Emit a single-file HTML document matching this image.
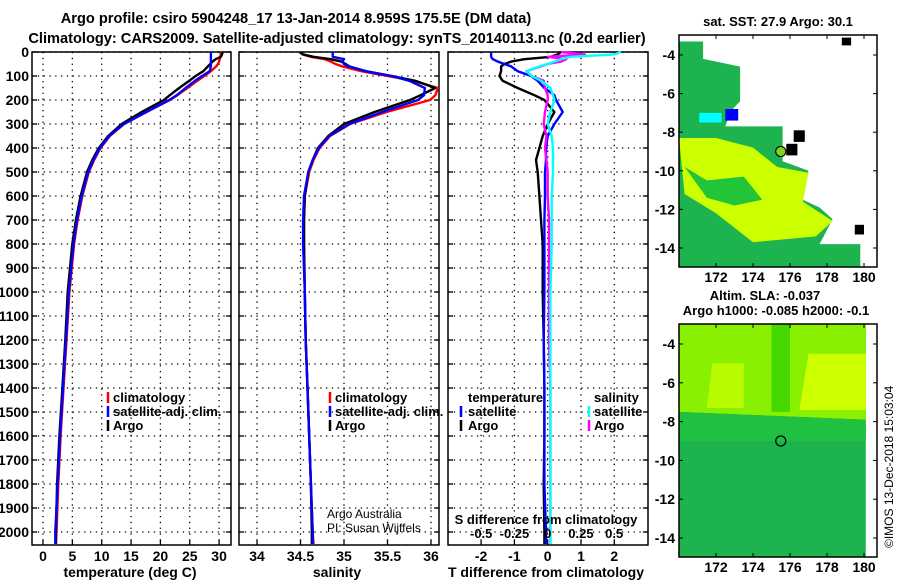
<!DOCTYPE html>
<html><head><meta charset="utf-8"><style>
html,body{margin:0;padding:0;background:#fff;}
svg{display:block;font-family:"Liberation Sans",sans-serif;}
.t{font-weight:bold;font-size:14.6px;fill:#000;}
.tk{font-weight:bold;font-size:14px;fill:#000;}
.lg{font-weight:bold;font-size:13px;fill:#000;}
</style></head><body>
<svg id="c" width="900" height="580" viewBox="0 0 900 580" xmlns="http://www.w3.org/2000/svg">
<text class="t" x="296" y="23" text-anchor="middle">Argo profile: csiro 5904248_17 13-Jan-2014 8.959S 175.5E (DM data)</text>
<text class="t" x="337" y="43" text-anchor="middle">Climatology: CARS2009. Satellite-adjusted climatology: synTS_20140113.nc (0.2d earlier)</text>
<g id="gP"></g>
<g id="gM"></g>
</svg>
<script>
// ---------- data ----------
const depthTicks=[0,100,200,300,400,500,600,700,800,900,1000,1100,1200,1300,1400,1500,1600,1700,1800,1900,2000];
const tempTicks=[0,5,10,15,20,25,30];
const salTicks=[34,34.5,35,35.5,36];
const tdiffTicks=[-2,-1,0,1,2];
const sdiffTicks=[-0.5,-0.25,0,0.25,0.5];
const sdiffLabels=["-0.5","-0.25","0","0.25","0.5"];

const depths=[0,10,20,30,40,50,60,80,100,120,150,180,200,250,300,350,400,450,500,600,700,800,1000,1200,1400,1600,1800,2000,2050];
const tempClim=[30.3,30.3,30.2,30.1,30.0,29.8,29.5,28.6,27.5,26.3,24.6,22.9,21.6,17.6,13.8,11.4,9.8,8.7,7.8,6.7,5.9,5.3,4.5,4.0,3.5,3.0,2.6,2.3,2.2];
const tempSat=[28.6,28.6,28.6,28.6,28.6,28.6,28.6,28.4,27.1,25.9,24.3,22.8,21.5,17.6,13.8,11.3,9.7,8.6,7.7,6.6,5.8,5.2,4.4,3.9,3.4,2.9,2.5,2.1,2.1];
const tempArgo=[30.6,30.5,30.3,29.4,28.9,28.5,28.1,27.3,26.0,24.9,23.2,21.6,20.6,16.8,13.4,11.1,9.5,8.4,7.5,6.4,5.6,5.0,4.2,3.8,3.3,2.8,2.4,2.2,2.2];
const salClim=[34.49,34.52,34.62,34.78,34.85,34.9,34.98,35.2,35.5,35.8,36.08,36.05,35.99,35.49,35.07,34.84,34.72,34.65,34.6,34.55,34.54,34.54,34.55,34.56,34.58,34.6,34.62,34.64,34.65];
const salSat=[34.87,34.87,34.87,35.0,34.98,35.0,35.05,35.25,35.55,35.75,35.93,35.92,35.85,35.44,35.06,34.83,34.71,34.64,34.59,34.54,34.53,34.53,34.55,34.56,34.58,34.6,34.62,34.64,34.64];
const salArgo=[34.49,34.53,34.65,34.85,34.97,35.02,35.06,35.25,35.55,35.82,36.05,35.88,35.76,35.35,35.0,34.82,34.7,34.64,34.59,34.55,34.54,34.54,34.55,34.56,34.58,34.6,34.62,34.63,34.63];
const tDiffSat=[-1.7,-1.7,-1.7,-1.65,-1.5,-1.3,-1.1,-0.9,-0.5,-0.3,-0.1,0.2,0.25,0.45,0.2,0.0,-0.05,-0.05,-0.08,-0.08,-0.1,-0.1,-0.1,-0.12,-0.1,-0.1,-0.1,-0.05,-0.05];
const tDiffArgo=[0.4,0.3,0.1,-0.7,-1.1,-1.3,-1.4,-1.4,-1.45,-1.35,-0.9,-0.4,-0.1,0.2,0.0,-0.15,-0.25,-0.35,-0.3,-0.25,-0.2,-0.15,-0.15,-0.12,-0.1,-0.1,-0.12,-0.1,-0.1];
const sDiffSat=[0.55,0.5,0.17,0.1,0.05,0.0,-0.06,-0.16,-0.12,-0.05,0.02,0.04,0.05,0.02,0.0,0.03,0.04,0.04,0.04,0.03,0.03,0.03,0.02,0.02,0.02,0.02,0.02,0.02,0.02];
const sDiffArgo=[0.1,0.28,0.0,0.14,0.1,0.0,-0.05,-0.16,-0.12,-0.03,-0.02,0.0,0.0,-0.02,-0.03,-0.01,-0.02,-0.01,0.0,0.0,0.01,0.01,0.01,0.01,0.02,0.02,0.02,0.02,0.02];

const lonTicks=[172,174,176,178,180];
const latTicks=[-4,-6,-8,-10,-12,-14];
const argoLon=175.5, argoLat=-9.0;

// ---------- helpers ----------
const NS="http://www.w3.org/2000/svg";
function mk(tag,attrs,parent){const e=document.createElementNS(NS,tag);for(const k in attrs)e.setAttribute(k,attrs[k]);parent.appendChild(e);return e;}
const gP=document.getElementById('gP'), gM=document.getElementById('gM');
const Y0=52, Y1=545;
function yD(d){return 52+d*0.24;}

function panel(name,x0,x1,xs,xticks,xlabels,showY){
  const g=mk('g',{},gP);
  
  
  xticks.forEach(v=>{const l=mk('line',{x1:xs(v),x2:xs(v),y1:Y0,y2:Y1,stroke:'#000','stroke-width':1.3,'stroke-dasharray':'1.3,4.5'},g);
    });
  depthTicks.forEach(d=>{const l=mk('line',{x1:x0,x2:x1,y1:yD(d),y2:yD(d),stroke:'#000','stroke-width':1.3,'stroke-dasharray':'1.3,4.5'},g);
    
    mk('line',{x1:x0,x2:x0+5,y1:yD(d),y2:yD(d),stroke:'#000','stroke-width':1.3},g);
    mk('line',{x1:x1-5,x2:x1,y1:yD(d),y2:yD(d),stroke:'#000','stroke-width':1.3},g);
    if(showY){const t=mk('text',{x:x0-3,y:yD(d)+5,'text-anchor':'end',class:'tk'},g);t.textContent=d;
      }
  });
  xlabels.forEach((lab,i)=>{const t=mk('text',{x:xs(xticks[i]),y:561,'text-anchor':'middle',class:'tk'},g);t.textContent=lab;
    
    mk('line',{x1:xs(xticks[i]),x2:xs(xticks[i]),y1:Y1,y2:Y1-5,stroke:'#000','stroke-width':1.3},g);});
  const r=mk('rect',{x:x0,y:Y0,width:x1-x0,height:Y1-Y0,fill:'none',stroke:'#000','stroke-width':1.5},g);
  
  return g;
}
function line(g,xs,vals,color,name){
  const pts=vals.map((v,i)=>xs(v).toFixed(1)+','+yD(depths[i]).toFixed(1)).join(' ');
  const p=mk('polyline',{points:pts,fill:'none',stroke:color,'stroke-width':2.4,'stroke-linejoin':'round'},g);
  
}
function legItem(g,x,y,color,label,name,mx){
  const gi=mk('g',{},g);
  
  mk('line',{x1:mx,x2:mx,y1:y-10,y2:y+1,stroke:color,'stroke-width':2.5},gi);
  const t=mk('text',{x:x,y:y,class:'lg'},gi);t.textContent=label;
}
function text(g,x,y,s,name,attrs){const t=mk('text',Object.assign({x:x,y:y},attrs||{}),g);t.textContent=s;
  return t;}

// ---------- panel 1: temperature ----------
const xT=v=>43+v*5.87;
const p1=panel('temperature-panel',32,231,xT,tempTicks,tempTicks.map(String),true);
line(p1,xT,tempClim,'#f00','temp-climatology-line');
line(p1,xT,tempArgo,'#000','temp-argo-line');
line(p1,xT,tempSat,'#00f','temp-satellite-line');
legItem(p1,113,402,'#f00','climatology','legend-climatology',108);
legItem(p1,113,416,'#00f','satellite-adj. clim.','legend-satellite',108);
legItem(p1,113,430,'#000','Argo','legend-argo',108);
text(p1,130,577,'temperature (deg C)','x-axis-title-temperature',{'text-anchor':'middle',class:'tk'});

// ---------- panel 2: salinity ----------
const xS=v=>257+(v-34)*87;
const p2=panel('salinity-panel',239,439,xS,salTicks,salTicks.map(String),false);
line(p2,xS,salClim,'#f00','sal-climatology-line');
line(p2,xS,salArgo,'#000','sal-argo-line');
line(p2,xS,salSat,'#00f','sal-satellite-line');
legItem(p2,335,402,'#f00','climatology','legend-climatology',330);
legItem(p2,335,416,'#00f','satellite-adj. clim.','legend-satellite',330);
legItem(p2,335,430,'#000','Argo','legend-argo',330);
text(p2,327,518,'Argo Australia','credit-argo-australia',{'font-size':12,fill:'#000'});
text(p2,327,532,'PI: Susan Wijffels','credit-pi',{'font-size':12,fill:'#000'});
text(p2,337,577,'salinity','x-axis-title-salinity',{'text-anchor':'middle',class:'tk'});

// ---------- panel 3: differences ----------
const xTd=v=>547.7+v*33.3;
const xSd=v=>547.7+v*133;
const p3=panel('difference-panel',448,648,xTd,tdiffTicks,tdiffTicks.map(String),false);
line(p3,xTd,tDiffArgo,'#000','tdiff-argo-line');
line(p3,xTd,tDiffSat,'#00f','tdiff-satellite-line');
line(p3,xSd,sDiffArgo,'#f0f','sdiff-argo-line');
line(p3,xSd,sDiffSat,'#0ff','sdiff-satellite-line');
text(p3,468,402,'temperature','legend-title-temperature',{class:'lg'});
legItem(p3,468,416,'#00f','satellite','legend-tdiff-satellite',461);
legItem(p3,468,430,'#000','Argo','legend-tdiff-argo',461);
text(p3,594,402,'salinity','legend-title-salinity',{class:'lg'});
legItem(p3,594,416,'#0ff','satellite','legend-sdiff-satellite',589);
legItem(p3,594,430,'#f0f','Argo','legend-sdiff-argo',589);
text(p3,546,524,'S difference from climatology','s-axis-title',{'text-anchor':'middle',class:'lg'});
sdiffTicks.forEach((v,i)=>{text(p3,xSd(v),538,sdiffLabels[i],'s-tick-label',{'text-anchor':'middle',class:'lg'});});
text(p3,546,577,'T difference from climatology','x-axis-title-tdiff',{'text-anchor':'middle',class:'tk'});

// ---------- maps ----------
function mapFrame(name,top,bottom){
  const g=mk('g',{},gM);
  
  const L=679,R=877;
  const lx=v=>716+(v-172)*18.5;
  const ly=v=>top+20+(-4-v)*((bottom-top-39)/10);
  return {g,L,R,lx,ly,top,bottom};
}
function finishMap(m){
  const g=m.g;
  const r=mk('rect',{x:m.L,y:m.top,width:m.R-m.L,height:m.bottom-m.top,fill:'none',stroke:'#000','stroke-width':1.5},g);
  
  lonTicks.forEach(v=>{mk('line',{x1:m.lx(v),x2:m.lx(v),y1:m.bottom,y2:m.bottom-4,stroke:'#000'},g);
    mk('line',{x1:m.lx(v),x2:m.lx(v),y1:m.top,y2:m.top+4,stroke:'#000'},g);
    text(g,m.lx(v),m.bottom+15,String(v),'lon-tick-label',{'text-anchor':'middle',class:'tk'});});
  latTicks.forEach(v=>{mk('line',{x1:m.L,x2:m.L+4,y1:m.ly(v),y2:m.ly(v),stroke:'#000'},g);
    mk('line',{x1:m.R-4,x2:m.R,y1:m.ly(v),y2:m.ly(v),stroke:'#000'},g);
    text(g,m.L-4,m.ly(v)+5,String(v),'lat-tick-label',{'text-anchor':'end',class:'tk'});});
  const c=mk('circle',{cx:m.lx(argoLon),cy:m.ly(argoLat),r:5,fill:'none',stroke:'#000','stroke-width':1.2},g);
  
}
function poly(m,pts,fill,name){
  const p=mk('polygon',{points:pts.map(q=>m.lx(q[0]).toFixed(1)+','+m.ly(q[1]).toFixed(1)).join(' '),fill:fill},m.g);
  
}
// SST map
const m1=mapFrame('sst-map',35,267);
const sstRegion=[[170,-3.3],[171.3,-3.3],[171.3,-4.2],[173.3,-4.6],[173.3,-6.4],[172.8,-6.9],[172.5,-7.7],[175.6,-7.7],[175.6,-9.5],[177.0,-10.0],[176.7,-11.5],[177.6,-11.9],[178.3,-12.5],[177.6,-13.8],[179.8,-13.8],[179.8,-15],[170,-15]];
poly(m1,sstRegion,'#1db34e','sst-data-region');
poly(m1,[[170,-8.3],[172,-8.3],[174,-8.8],[175.3,-9.8],[177,-10.1],[176.7,-11.6],[178.3,-12.6],[177.4,-13.4],[174,-13.7],[172,-12.2],[170.3,-11.2]],'#ccff00','sst-warm-patch');
poly(m1,[[170.3,-9.8],[171.5,-10.5],[173.5,-10.3],[174.5,-11.5],[173,-11.8],[171.5,-11.4]],'#22c43a','sst-green-patch');
poly(m1,[[172.5,-6.8],[173.2,-6.8],[173.2,-7.4],[172.5,-7.4]],'#0000ff','sst-blue-cell');
poly(m1,[[176.2,-7.9],[176.8,-7.9],[176.8,-8.5],[176.2,-8.5]],'#000','sst-black-cell');
poly(m1,[[175.8,-8.6],[176.4,-8.6],[176.4,-9.2],[175.8,-9.2]],'#000','sst-black-cell');
poly(m1,[[178.8,-3.1],[179.3,-3.1],[179.3,-3.5],[178.8,-3.5]],'#000','sst-black-cell');
poly(m1,[[179.5,-12.8],[180,-12.8],[180,-13.3],[179.5,-13.3]],'#000','sst-black-cell');
poly(m1,[[171.1,-7.0],[172.3,-7.0],[172.3,-7.5],[171.1,-7.5]],'#00ffff','sst-cyan-cell');
text(m1.g,778,26,'sat. SST: 27.9 Argo: 30.1','sst-map-title',{'text-anchor':'middle',class:'lg'});
finishMap(m1);
mk('circle',{cx:m1.lx(argoLon),cy:m1.ly(argoLat),r:4.5,fill:'#7ed321'},m1.g);
// SLA map
const m2=mapFrame('sla-map',324,557);
poly(m2,[[170,-3],[180.1,-3],[180.1,-15],[170,-15]],'#1db34e','sla-low-region');
poly(m2,[[170,-3],[180.1,-3],[180.1,-7.9],[170,-7.5]],'#88f000','sla-high-region');
poly(m2,[[177,-4.5],[180.1,-4.5],[180.1,-7.4],[176.5,-7.4]],'#ccff00','sla-peak-region');
poly(m2,[[171.8,-5],[173.5,-5],[173.5,-7.3],[171.5,-7.3]],'#b8fa00','sla-peak-region');
poly(m2,[[175,-3],[176,-3],[176,-7.5],[175,-7.5]],'#44d800','sla-trough');
poly(m2,[[170,-7.5],[180.1,-7.9],[180.1,-9],[170,-9]],'#20c040','sla-band');
text(m2.g,765,300,'Altim. SLA: -0.037','sla-map-title',{'text-anchor':'middle',class:'lg'});
text(m2.g,776,315,'Argo h1000: -0.085 h2000: -0.1','sla-map-subtitle',{'text-anchor':'middle',class:'lg'});
finishMap(m2);
const ts=mk('text',{x:0,y:0,'font-size':12,transform:'translate(893,548) rotate(-90)'},gM);
ts.textContent='©IMOS 13-Dec-2018 15:03:04';


</script>
</body></html>
